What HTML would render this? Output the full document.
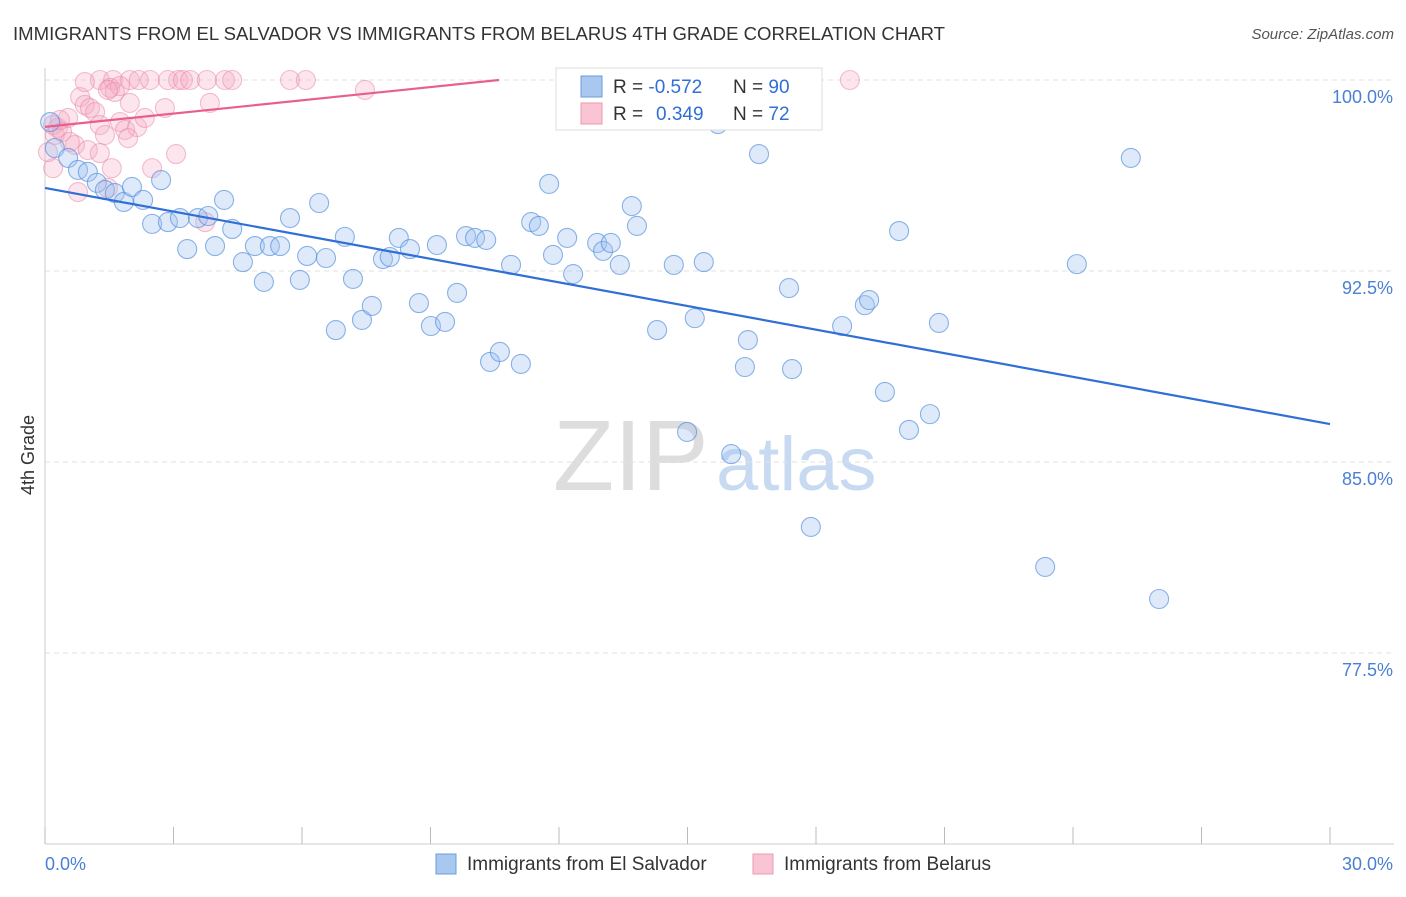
<!DOCTYPE html>
<html><head><meta charset="utf-8"><style>
body{margin:0;background:#fff;font-family:"Liberation Sans",sans-serif;}
svg text{font-family:"Liberation Sans",sans-serif;}
</style></head><body>
<svg id="chart" width="1406" height="892" xmlns="http://www.w3.org/2000/svg">
<text x="13" y="40" font-size="18" fill="#333" textLength="932" lengthAdjust="spacingAndGlyphs">IMMIGRANTS FROM EL SALVADOR VS IMMIGRANTS FROM BELARUS 4TH GRADE CORRELATION CHART</text>
<text x="1394" y="39" font-size="15" fill="#555" text-anchor="end" font-style="italic">Source: ZipAtlas.com</text>
<text x="34" y="455" font-size="18" fill="#333" text-anchor="middle" transform="rotate(-90 34 455)">4th Grade</text>
<g>
<text x="553" y="490" font-size="100" fill="#ddd" font-family="Liberation Serif, serif">ZIP</text>
<text x="716" y="490" font-size="76" fill="#c8daf2">atlas</text>
</g>
<g id="grid"></g><g id="ticks"></g><g id="marks"></g>
<g>
<rect x="556" y="68" width="266" height="62" fill="#fff" stroke="#ddd"/>
<rect x="581" y="76" width="21" height="21" fill="#a8c8f0" stroke="#6a9be0"/>
<rect x="581" y="103" width="21" height="21" fill="#f9c4d4" stroke="#ee99b3"/>
<text x="613" y="93" font-size="19" fill="#333">R = <tspan fill="#2f6fd6">-0.572</tspan></text>
<text x="733" y="93" font-size="19" fill="#333">N = <tspan fill="#2f6fd6">90</tspan></text>
<text x="613" y="120" font-size="19" fill="#333">R = <tspan fill="#2f6fd6" x="656">0.349</tspan></text>
<text x="733" y="120" font-size="19" fill="#333">N = <tspan fill="#2f6fd6">72</tspan></text>
</g>
<g>
<rect x="436" y="854" width="20" height="20" fill="#a8c8f0" stroke="#6a9be0"/>
<text x="467" y="870" font-size="19" fill="#333">Immigrants from El Salvador</text>
<rect x="753" y="854" width="20" height="20" fill="#f9c4d4" stroke="#ee99b3"/>
<text x="784" y="870" font-size="19" fill="#333">Immigrants from Belarus</text>
</g>
<text x="45" y="870" font-size="18" fill="#4a7fd4">0.0%</text>
<text x="1393" y="870" font-size="18" fill="#4a7fd4" text-anchor="end">30.0%</text>
</svg>
<script>
const yTicks=[100,92.5,85,77.5];
const xTickVals=[0,3,6,9,12,15,18,21,24,27,30];
const blueX=[0.12,0.23,0.54,0.77,1.00,1.21,1.40,1.63,1.84,2.03,2.29,2.50,2.71,2.87,3.15,3.32,3.57,3.81,3.97,4.18,4.37,4.62,4.90,5.11,5.25,5.49,5.72,5.95,6.12,6.40,6.56,6.79,7.00,7.19,7.40,7.63,7.89,8.05,8.26,8.52,8.73,9.01,9.15,9.34,9.62,9.83,10.04,10.30,10.39,10.62,10.88,11.11,11.35,11.53,11.77,11.86,12.19,12.33,12.89,13.03,13.21,13.42,13.70,13.82,14.29,14.68,14.99,15.17,15.38,15.71,16.02,16.34,16.41,16.67,17.37,17.44,17.88,18.61,19.14,19.24,19.61,19.94,20.17,20.66,20.87,23.35,24.09,25.35,26.01,12.70];
const blueY=[98.35,97.33,96.94,96.47,96.39,95.96,95.68,95.56,95.21,95.80,95.29,94.35,96.07,94.42,94.58,93.36,94.58,94.66,93.48,95.29,94.15,92.85,93.48,92.07,93.48,93.48,94.58,92.15,93.09,95.17,93.01,90.18,93.84,92.19,90.58,91.13,92.97,93.05,93.80,93.36,91.24,90.34,93.52,90.50,91.64,93.87,93.80,93.72,88.93,89.32,92.74,88.85,94.42,94.27,95.92,93.13,93.80,92.38,93.60,93.29,93.60,92.74,95.05,94.27,90.18,92.74,86.18,90.65,92.85,98.27,85.31,88.73,89.79,97.09,91.83,88.65,82.45,90.34,91.16,91.36,87.75,94.07,86.26,86.88,90.46,80.88,92.77,96.94,79.62,99.69];
const pinkX=[1.28,1.59,1.98,2.19,2.45,2.87,3.11,3.22,3.39,3.78,4.20,4.37,5.72,6.09,18.79,0.19,0.23,0.30,0.40,0.54,0.70,0.82,0.93,1.05,1.17,1.28,1.40,1.52,1.63,1.75,1.87,1.98,2.15,2.33,2.50,2.80,3.06,3.74,3.85,7.47,0.77,0.19,0.07,0.35,0.58,1.00,1.28,1.47,1.56,1.94,0.93,1.75,1.47];
const pinkY=[100,100,100,100,100,100,100,100,100,100,100,100,100,100,100,98.23,97.84,98.12,97.96,98.51,97.45,99.33,99.02,98.90,98.74,98.23,97.84,99.69,99.53,98.35,98.04,99.10,98.15,98.51,96.54,98.90,97.09,94.42,99.10,99.61,95.60,96.54,97.17,98.43,97.57,97.25,97.13,95.76,96.54,97.72,99.92,99.76,99.61];
const blueTrendX=[0,30], blueTrendY=[95.76,86.49];
const pinkTrendX=[0,10.6], pinkTrendY=[98.16,100];
const NS="http://www.w3.org/2000/svg";
const X0=45,X1=1330,Y100=80,PX_PER=191/7.5;
const sx=v=>X0+(v/30)*(X1-X0);
const sy=v=>Y100+(100-v)*PX_PER;
function mk(tag,attrs,parent){const e=document.createElementNS(NS,tag);for(const k in attrs)e.setAttribute(k,attrs[k]);parent.appendChild(e);return e;}
const grid=document.getElementById('grid'),ticks=document.getElementById('ticks'),marks=document.getElementById('marks');
yTicks.forEach(t=>{
 const l=mk('line',{x1:X0,x2:1394,y1:sy(t),y2:sy(t),stroke:'#e2e2e2','stroke-dasharray':'5,4'},grid);
 
 
 const tx=mk('text',{x:1393,y:sy(t)+23,'font-size':18,fill:'#4a7fd4','text-anchor':'end'},grid);
 tx.textContent=t.toFixed(1)+'%';
 
 
});
const yb=sy(70);
const ax=mk('line',{x1:X0,x2:1394,y1:yb,y2:yb,stroke:'#ccc'},ticks);


const ay=mk('line',{x1:X0,x2:X0,y1:68,y2:yb,stroke:'#ccc'},ticks);


xTickVals.forEach(t=>{
 const l=mk('line',{x1:sx(t),x2:sx(t),y1:yb-17,y2:yb,stroke:'#bbb'},ticks);
 
 
});
function dots(xs,ys,fill,stroke,name){
 xs.forEach((x,i)=>{
  const c=mk('circle',{cx:sx(x),cy:sy(ys[i]),r:9.5,fill:fill,stroke:stroke,'stroke-width':1.1},marks);
  
  
 });
}
dots(pinkX,pinkY,'rgba(246,170,195,0.3)','rgba(232,130,165,0.5)','belarus-point');
dots(blueX,blueY,'rgba(160,196,240,0.35)','rgba(80,140,220,0.65)','el-salvador-point');
const bl=mk('line',{x1:sx(blueTrendX[0]),y1:sy(blueTrendY[0]),x2:sx(blueTrendX[1]),y2:sy(blueTrendY[1]),stroke:'#2f6fd6','stroke-width':2.2},marks);


const pl=mk('line',{x1:sx(pinkTrendX[0]),y1:sy(pinkTrendY[0]),x2:sx(pinkTrendX[1]),y2:sy(pinkTrendY[1]),stroke:'#e8608a','stroke-width':2.2},marks);


</script>
</body></html>
